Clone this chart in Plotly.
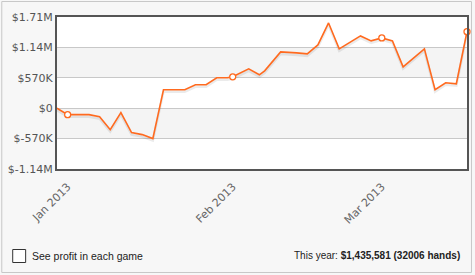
import plotly.graph_objects as go
import pandas as pd

dates = ["2012-12-30", "2013-01-01", "2013-01-05", "2013-01-07", "2013-01-09", "2013-01-11",
         "2013-01-13", "2013-01-15", "2013-01-17", "2013-01-19", "2013-01-23", "2013-01-25",
         "2013-01-27", "2013-01-29", "2013-01-31", "2013-02-01", "2013-02-04", "2013-02-06",
         "2013-02-07", "2013-02-10", "2013-02-13", "2013-02-15", "2013-02-17", "2013-02-19",
         "2013-02-21", "2013-02-25", "2013-02-27", "2013-03-01", "2013-03-03", "2013-03-05",
         "2013-03-09", "2013-03-11", "2013-03-13", "2013-03-15", "2013-03-17"]
profit = [0, -121000, -121000, -159000, -402000, -84000,
          -458000, -495000, -570000, 346000, 346000, 439000,
          439000, 570000, 570000, 589000, 738000, 626000,
          701000, 1056000, 1037000, 1019000, 1187000, 1598000,
          1112000, 1355000, 1262000, 1318000, 1262000, 776000,
          1112000, 346000, 477000, 458000, 1435581]
marker_dates = ["2013-01-01", "2013-02-01", "2013-03-01", "2013-03-17"]

y_ticks = [-1140000, -570000, 0, 570000, 1140000, 1710000]
y_labels = ["$-1.14M", "$-570K", "$0", "$570K", "$1.14M", "$1.71M"]
x_ticks = ["2013-01-01", "2013-02-01", "2013-03-01"]
x_labels = ["Jan 2013", "Feb 2013", "Mar 2013"]

total_text = "This year: <b>$1,435,581 (32006 hands)</b>"
check_text = "See profit in each game"

W, H = 475, 275
ML, MR, MT, MB = 57, 6, 17, 106
PW, PH = W - ML - MR, H - MT - MB

def px_x(p):
    return (p - ML) / PW

def px_y(p):
    return (H - MB - p) / PH

df = pd.DataFrame({"date": pd.to_datetime(dates), "profit": profit})
mk = df[df["date"].isin(pd.to_datetime(marker_dates))]

yspan = y_ticks[-1] - y_ticks[0]
shadow_off = yspan / PH * 2.0

fig = go.Figure()
fig.add_trace(go.Scatter(x=df["date"], y=df["profit"] - shadow_off, mode="lines",
                         line=dict(color="rgba(0,0,0,0.08)", width=2.5),
                         hoverinfo="skip", showlegend=False))
fig.add_trace(go.Scatter(x=df["date"], y=df["profit"], mode="lines",
                         line=dict(color="#ff6a1f", width=1.6),
                         showlegend=False))
fig.add_trace(go.Scatter(x=mk["date"], y=mk["profit"], mode="markers",
                         marker=dict(color="white", size=6,
                                     line=dict(color="#ff6a1f", width=1.3)),
                         showlegend=False, cliponaxis=False))

shapes = []
for i in range(len(y_ticks) - 1):
    if i % 2 == 1:
        shapes.append(dict(type="rect", xref="paper", yref="y", x0=0, x1=1,
                           y0=y_ticks[i], y1=y_ticks[i + 1], fillcolor="#f4f4f4",
                           line=dict(width=0), layer="below"))
# outer panel border
shapes.append(dict(type="rect", xref="paper", yref="paper",
                   x0=px_x(1.5), x1=px_x(473.5), y0=px_y(272.5), y1=px_y(1.5),
                   line=dict(color="#c8c8c8", width=1), fillcolor="rgba(0,0,0,0)",
                   layer="below"))
# checkbox
shapes.append(dict(type="rect", xref="paper", yref="paper",
                   x0=px_x(12.5), x1=px_x(25.5), y0=px_y(262.5), y1=px_y(249.5),
                   line=dict(color="#333333", width=1), fillcolor="white"))

fig.update_layout(
    width=W, height=H,
    margin=dict(l=ML, r=MR, t=MT, b=MB),
    paper_bgcolor="#f7f7f7",
    plot_bgcolor="white",
    shapes=shapes,
    font=dict(family="DejaVu Sans, Verdana, sans-serif", size=11, color="#555555"),
    xaxis=dict(range=[df["date"].min(), df["date"].max()],
               tickvals=pd.to_datetime(x_ticks), ticktext=x_labels,
               tickangle=-45, showgrid=False, zeroline=False,
               showline=True, linecolor="#555555", linewidth=2, mirror=True,
               ticks="outside", ticklen=5, tickcolor="rgba(0,0,0,0)",
               tickfont=dict(size=11, color="#666666")),
    yaxis=dict(range=[y_ticks[0], y_ticks[-1]], tickvals=y_ticks, ticktext=y_labels,
               showgrid=True, gridcolor="#c8c8c8", gridwidth=1, zeroline=False,
               showline=True, linecolor="#555555", linewidth=2, mirror=True,
               ticks="", tickfont=dict(size=11, color="#555555")),
    annotations=[
        dict(text=check_text, xref="paper", yref="paper", x=px_x(30), y=px_y(256),
             xanchor="left", yanchor="middle", showarrow=False,
             font=dict(family="Liberation Sans, Arial, sans-serif", size=10.5, color="#222222")),
        dict(text=total_text, xref="paper", yref="paper", x=px_x(464), y=px_y(256),
             xanchor="right", yanchor="middle", showarrow=False,
             font=dict(family="Liberation Sans, Arial, sans-serif", size=10, color="#222222")),
    ],
)

fig.write_html("out.html")
